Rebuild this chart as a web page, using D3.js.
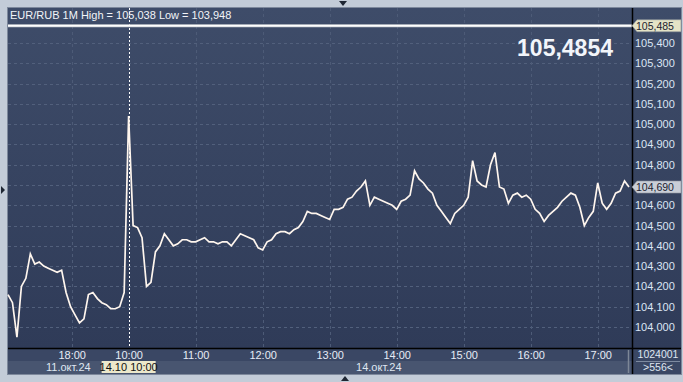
<!DOCTYPE html>
<html>
<head>
<meta charset="utf-8">
<script src="https://cdn.jsdelivr.net/npm/d3@7"></script>
<style>
  body { margin: 0; background: #c3ccd8; }
  svg { display: block; font-family: "Liberation Sans", Arial, sans-serif; }
</style>
</head>
<body>
<svg width="683" height="382"></svg>
<script>
// one close every 4 minutes, 556 one-minute bars in total
var step = 4;
var barCount = 556;
var closes = [
  104.16, 104.12, 103.95, 104.20, 104.24, 104.36, 104.31, 104.32, 104.30, 104.29,
  104.28, 104.27, 104.28, 104.17, 104.10, 104.06, 104.02, 104.04, 104.16, 104.17,
  104.14, 104.12, 104.11, 104.09, 104.09, 104.10, 104.17, 105.04, 104.50, 104.49,
  104.44, 104.20, 104.22, 104.37, 104.40, 104.46, 104.43, 104.40, 104.41, 104.43,
  104.43, 104.42, 104.42, 104.43, 104.44, 104.42, 104.42, 104.41, 104.42, 104.42,
  104.40, 104.43, 104.46, 104.45, 104.44, 104.43, 104.39, 104.38, 104.42, 104.43,
  104.46, 104.47, 104.47, 104.46, 104.48, 104.49, 104.52, 104.57, 104.56, 104.56,
  104.55, 104.54, 104.53, 104.58, 104.58, 104.59, 104.63, 104.64, 104.67, 104.69,
  104.72, 104.60, 104.64, 104.63, 104.62, 104.61, 104.60, 104.58, 104.62, 104.63,
  104.65, 104.77, 104.73, 104.71, 104.68, 104.66, 104.60, 104.57, 104.54, 104.51,
  104.56, 104.58, 104.60, 104.64, 104.82, 104.72, 104.70, 104.69, 104.80, 104.86,
  104.69, 104.68, 104.61, 104.65, 104.66, 104.64, 104.65, 104.63, 104.58, 104.56,
  104.52, 104.55, 104.57, 104.59, 104.62, 104.64, 104.66, 104.65, 104.59, 104.50,
  104.54, 104.57, 104.71, 104.61, 104.58, 104.61, 104.66, 104.67, 104.72, 104.69
];
var yTicks = [104.0, 104.1, 104.2, 104.3, 104.4, 104.5, 104.6, 104.7, 104.8, 104.9, 105.0, 105.1, 105.2, 105.3, 105.4];
var timeLabels = ["18:00", "10:00", "11:00", "12:00", "13:00", "14:00", "15:00", "16:00", "17:00"];
var timeIndex = [57, 108, 168, 228, 288, 348, 408, 468, 528];
var dayLabels = ["11.окт.24", "14.окт.24"];
var dayStart = [0, 108];
var dayEnd = [108, 556];
var cursorIndex = 108;
var cursorLabel = "14.10 10:00";
var title = "EUR/RUB 1M High = 105,038 Low = 103,948";
var bidPrice = 105.485;
var bigPrice = "105,4854";
var lastPrice = 104.690;
var volumeText = "1024001";
var countText = ">556<";

var svg = d3.select("svg");
var pL = 8, pR = 632, pT = 8, pB = 348;

var x = d3.scaleLinear().domain([0, barCount]).range([8, 629]);
var y = d3.scaleLinear().domain([104.0, 105.4]).range([327, 43]);
var comma = function(v) { return d3.format(".3f")(v).replace(".", ","); };

var defs = svg.append("defs");
var grad = defs.append("linearGradient").attr("id", "panelbg")
  .attr("gradientUnits", "userSpaceOnUse")
  .attr("x1", 0).attr("y1", pT).attr("x2", 0).attr("y2", pB);
grad.append("stop").attr("offset", "0%").attr("stop-color", "#3e4c69");
grad.append("stop").attr("offset", "100%").attr("stop-color", "#2f3b58");

svg.append("rect").attr("width", 683).attr("height", 382).attr("fill", "#c3ccd8");

// panels
svg.append("rect").attr("x", pL).attr("y", pT).attr("width", 681 - pL).attr("height", pB - pT)
  .attr("fill", "url(#panelbg)");
svg.append("rect").attr("x", pL).attr("y", pB).attr("width", 681 - pL).attr("height", 13).attr("fill", "#3a4764");
svg.append("rect").attr("x", pL).attr("y", pB + 13).attr("width", pR - pL).attr("height", 13).attr("fill", "#485570");
svg.append("rect").attr("x", pR).attr("y", pB + 13).attr("width", 681 - pR).attr("height", 13).attr("fill", "#3a4764");
svg.append("rect").attr("x", pL - 0.5).attr("y", pT - 0.5).attr("width", 681 - pL + 1).attr("height", 374 - pT + 1)
  .attr("fill", "none").attr("stroke", "#7e899c").attr("stroke-width", 1);

// grid
svg.append("g").selectAll("line").data(yTicks).join("line")
  .attr("x1", pL).attr("x2", pR)
  .attr("y1", function(d) { return Math.round(y(d)) + 0.5; })
  .attr("y2", function(d) { return Math.round(y(d)) + 0.5; })
  .attr("stroke", "#52607c").attr("stroke-dasharray", "3,3");
svg.append("g").selectAll("line").data(timeIndex.filter(function(d) { return d !== cursorIndex; })).join("line")
  .attr("x1", function(d) { return Math.round(x(d)) + 0.5; })
  .attr("x2", function(d) { return Math.round(x(d)) + 0.5; })
  .attr("y1", pT).attr("y2", pB)
  .attr("stroke", "#4d5b77").attr("stroke-dasharray", "3,3");

// cursor line
svg.append("line")
  .attr("x1", Math.round(x(cursorIndex)) + 0.5).attr("x2", Math.round(x(cursorIndex)) + 0.5)
  .attr("y1", pT).attr("y2", pB)
  .attr("stroke", "#ffffff").attr("stroke-width", 1).attr("stroke-dasharray", "2,2");

// bid line
svg.append("line").attr("x1", pL).attr("x2", pR)
  .attr("y1", y(bidPrice)).attr("y2", y(bidPrice))
  .attr("stroke", "#c9cdd2").attr("stroke-width", 3);
svg.append("line").attr("x1", pL).attr("x2", pR)
  .attr("y1", y(bidPrice)).attr("y2", y(bidPrice))
  .attr("stroke", "#ffffff").attr("stroke-width", 1.5);

// price line
var line = d3.line()
  .x(function(d, i) { return x(i * step); })
  .y(function(d) { return y(d); });
svg.append("path").datum(closes)
  .attr("d", line)
  .attr("fill", "none").attr("stroke", "#fff6ee").attr("stroke-width", 1.7);

// axis separators
svg.append("line").attr("x1", pR + 0.5).attr("x2", pR + 0.5).attr("y1", pT).attr("y2", 374)
  .attr("stroke", "#000").attr("stroke-width", 1.5);
svg.append("line").attr("x1", pL).attr("x2", 681).attr("y1", pB + 0.5).attr("y2", pB + 0.5)
  .attr("stroke", "#000").attr("stroke-width", 1.5);
svg.append("line").attr("x1", 628.5).attr("x2", 628.5).attr("y1", 350).attr("y2", 373)
  .attr("stroke", "#7d8797").attr("stroke-width", 1.5);

// right axis, labels hidden under the price markers are dropped
var yAxis = d3.axisRight(y)
  .tickValues(yTicks.filter(function(t) { return Math.abs(y(t) - y(lastPrice)) > 8 && Math.abs(y(t) - y(bidPrice)) > 8; }))
  .tickSize(0).tickPadding(3).tickFormat(comma);
var ya = svg.append("g").attr("transform", "translate(" + pR + ",0)").call(yAxis);
ya.select(".domain").remove();
ya.selectAll("text").attr("fill", "#dbe5f4").attr("font-size", 11).attr("font-family", "Liberation Sans, Arial, sans-serif");

// price markers
function marker(v, fill) {
  var py = y(v);
  svg.append("path")
    .attr("d", "M" + pR + "," + py + "L" + (pR + 5) + "," + (py - 6) + "L681," + (py - 6) + "L681," + (py + 6) + "L" + (pR + 5) + "," + (py + 6) + "Z")
    .attr("fill", fill).attr("stroke", "#8e949c").attr("stroke-width", 0.6);
  svg.append("text").attr("x", pR + 4).attr("y", py + 4)
    .attr("font-size", 10.5).attr("fill", "#1c2230").text(comma(v));
}
marker(bidPrice, "#e4e3c6");
marker(lastPrice, "#c9ced7");

// bottom axis
var xAxis = d3.axisBottom(x).tickValues(timeIndex).tickSize(0).tickPadding(3)
  .tickFormat(function(d, i) { return timeLabels[i]; });
var xa = svg.append("g").attr("transform", "translate(0," + pB + ")").call(xAxis);
xa.select(".domain").remove();
xa.selectAll("text").attr("fill", "#e6ecf6").attr("font-size", 11).attr("font-family", "Liberation Sans, Arial, sans-serif");

svg.append("g").selectAll("text").data(dayLabels).join("text")
  .attr("x", function(d, i) { return x((dayStart[i] + dayEnd[i]) / 2); })
  .attr("y", 371).attr("text-anchor", "middle")
  .attr("font-size", 11).attr("fill", "#dfe6f1").text(function(d) { return d; });

var cx = x(cursorIndex);
svg.append("rect").attr("x", cx - 27).attr("y", 361).attr("width", 54).attr("height", 12).attr("fill", "#ece8cb");
svg.append("text").attr("x", cx).attr("y", 371).attr("text-anchor", "middle")
  .attr("font-size", 11).attr("fill", "#111").text(cursorLabel);

// corner box
svg.append("text").attr("x", 658).attr("y", 358).attr("text-anchor", "middle")
  .attr("font-size", 10.5).attr("fill", "#dfe6f1").text(volumeText);
svg.append("line").attr("x1", 636).attr("x2", 680).attr("y1", 361.5).attr("y2", 361.5).attr("stroke", "#7d8aa0");
svg.append("text").attr("x", 658).attr("y", 371).attr("text-anchor", "middle")
  .attr("font-size", 10.5).attr("fill", "#dfe6f1").text(countText);

// titles
svg.append("text").attr("x", 10).attr("y", 19).attr("font-size", 11).attr("fill", "#f2f4f8").text(title);
svg.append("text").attr("x", 613).attr("y", 56).attr("text-anchor", "end")
  .attr("font-size", 23).attr("font-weight", "bold").attr("fill", "#f2f5fa").text(bigPrice);

// small scroll arrows
svg.append("path").attr("d", "M339,1L347,1L343,6Z").attr("fill", "#1e2633");
svg.append("path").attr("d", "M341,381L349,381L345,376Z").attr("fill", "#1e2633");
svg.append("path").attr("d", "M1,186L1,194L5,190Z").attr("fill", "#1e2633");
</script>
</body>
</html>
